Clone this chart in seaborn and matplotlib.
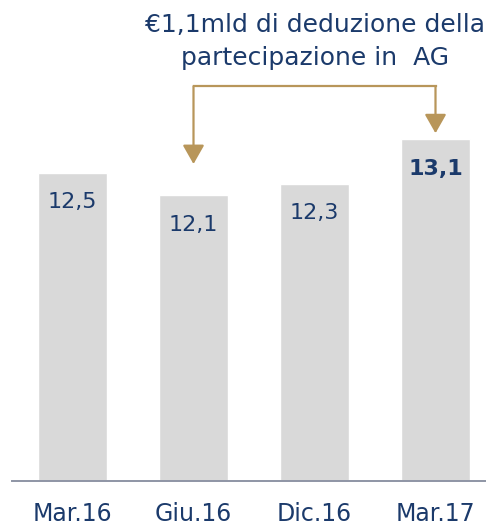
import pandas as pd
import matplotlib.pyplot as plt
import seaborn as sns

# -- Data --
PERIODS = ["Mar.16", "Giu.16", "Dic.16", "Mar.17"]
VALUES = [12.5, 12.1, 12.3, 13.1]
VALUE_LABELS = ["12,5", "12,1", "12,3", "13,1"]
BOLD_LABEL = [False, False, False, True]
NOTE = "€1,1mld di deduzione della\npartecipazione in  AG"

NAVY = "#1b3a6b"
GOLD = "#b8965a"
BAR_GREY = "#d9d9d9"
AXIS_GREY = "#8e95a5"


def plot_bars(df: pd.DataFrame) -> None:
    """
    Bar chart of the four periods with the deduction note and bracket arrow.
    """
    sns.set_style("white")
    plt.rcParams["font.family"] = ["DejaVu Sans"]

    fig = plt.figure(figsize=(4.86, 5.26), dpi=100)
    ax = fig.add_axes([12 / 486, 45 / 526, 484 / 486, 436 / 526])

    sns.barplot(
        data=df, x="period", y="value", color=BAR_GREY,
        saturation=1, width=0.57, errorbar=None, ax=ax,
    )
    ax.set_xlim(-0.5, 3.5)
    ax.set_ylim(7, 7 + 436 / 56)

    # value labels inside the bars, just below the top
    for i, (v, lab, bold) in enumerate(zip(df["value"], VALUE_LABELS, BOLD_LABEL)):
        ax.annotate(
            lab, xy=(i, v), xytext=(0, -21), textcoords="offset points",
            ha="center", va="center", fontsize=16, color=NAVY,
            fontweight="bold" if bold else "normal",
        )

    # bracket arrow from the note down to Giu.16 and Mar.17
    top = 14.05
    ax.plot([1, 3], [top, top], color=GOLD, lw=1.6, solid_capstyle="projecting")
    for x, tip in [(1, 12.66), (3, 13.21)]:
        ax.annotate(
            "", xy=(x, tip), xytext=(x, top),
            arrowprops=dict(
                arrowstyle="-|>,head_length=0.58,head_width=0.33",
                color=GOLD, lw=1.6, shrinkA=0, shrinkB=0, mutation_scale=20,
            ),
        )

    # axis styling
    sns.despine(ax=ax, left=True)
    ax.spines["bottom"].set_color(AXIS_GREY)
    ax.spines["bottom"].set_linewidth(1.4)
    ax.set_yticks([])
    ax.set_xlabel("")
    ax.set_ylabel("")
    ax.set_xticks([-0.5, 0.5, 1.5, 2.5, 3.5])
    ax.set_xticks(range(len(PERIODS)), minor=True)
    ax.set_xticklabels(PERIODS, minor=True)
    ax.tick_params(axis="x", which="major", length=6.5, width=1.2,
                   color=AXIS_GREY, labelbottom=False)
    ax.tick_params(axis="x", which="minor", length=0, pad=15,
                   labelsize=17, labelcolor=NAVY)

    fig.text(315 / 486, 1 - 41.5 / 526, NOTE, ha="center", va="center",
             fontsize=18, color=NAVY, linespacing=1.52)

    fig.savefig("out.png", dpi=100)
    plt.close()


def main():
    df = pd.DataFrame({"period": PERIODS, "value": VALUES})
    plot_bars(df)


if __name__ == "__main__":
    main()
